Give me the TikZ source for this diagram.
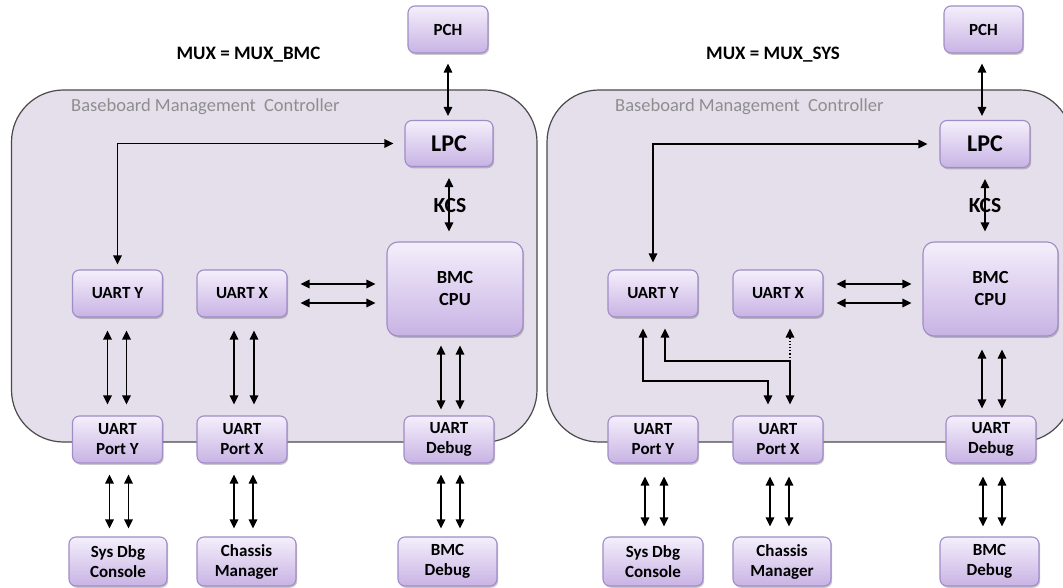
\documentclass[tikz,border=0pt]{standalone}
\usepackage{fontspec}
\setmainfont{Carlito}
\usetikzlibrary{arrows.meta,shadows,calc}
\definecolor{boxtop}{HTML}{F4EFFB}
\definecolor{boxbot}{HTML}{C8B3E4}
\definecolor{boxline}{HTML}{A08CC6}
\definecolor{panelfill}{HTML}{E4DFEB}
\definecolor{panelline}{HTML}{4A4A4A}
\definecolor{labelgray}{HTML}{8E8E8E}

\tikzset{
  blk/.style={draw=boxline, line width=1.1pt, rounded corners=7pt,
    top color=boxtop, bottom color=boxbot, align=center, inner sep=0pt,
    minimum width=90pt, minimum height=47pt,
    font=\fontsize{17}{20}\selectfont\bfseries,
    drop shadow={shadow xshift=1.2pt, shadow yshift=-1.8pt, opacity=0.3, fill=black!70}},
  panel/.style={fill=panelfill, draw=panelline, line width=1.2pt, rounded corners=52pt},
  tip/.style={Triangle[length=9pt,width=8.5pt]},
  link/.style={line width=1.2pt, {Triangle[length=9pt,width=8.5pt]}-{Triangle[length=9pt,width=8.5pt]}},
  onelink/.style={line width=1.2pt, -{Triangle[length=9pt,width=8.5pt]}},
  title/.style={font=\fontsize{19}{22}\selectfont\bfseries},
  bmclabel/.style={font=\fontsize{18.5}{22}\selectfont, text=labelgray, anchor=west, inner sep=0pt},
  kcslabel/.style={font=\fontsize{21.5}{24}\selectfont\bfseries, inner sep=0pt},
}

\begin{document}
\begin{tikzpicture}[x=1pt, y=-1pt]
\useasboundingbox (0,0) rectangle (1063,588);
\clip (0,0) rectangle (1063,588);

% ---------- controller outlines ----------
\draw[panel] (11.5,90) rectangle (537,442);
\draw[panel] (547,90) rectangle (1072,442);

% ================= MUX_BMC =================
\node[title] (muxa) at (248.5,55) {MUX = MUX\_BMC};
\node[bmclabel] (bmca) at (71,107) {Baseboard Management\ \ Controller};

\node[blk, minimum width=80pt] (pcha) at (448,29.5) {PCH};
\node[blk, minimum width=88pt, minimum height=46pt, font=\fontsize{24}{26}\selectfont\bfseries] (lpca) at (449,143.5) {LPC};
\node[blk, minimum width=136pt, minimum height=94pt, rounded corners=11pt, font=\fontsize{18.5}{22}\selectfont\bfseries] (cpua) at (455,289) {BMC\\CPU};
\node[blk] (uya) at (117.5,293.5) {UART Y};
\node[blk] (uxa) at (242,293.5) {UART X};
\node[blk] (pya) at (117.5,439.5) {UART\\Port Y};
\node[blk] (pxa) at (242,439.5) {UART\\Port X};
\node[blk] (pda) at (449,439.5) {UART\\Debug};
\node[blk, minimum width=98pt, minimum height=49pt] (sda) at (118,561.5) {Sys Dbg\\Console};
\node[blk, minimum width=99pt, minimum height=49pt] (cma) at (246.5,561.5) {Chassis\\Manager};
\node[blk, minimum width=99pt, minimum height=49pt] (bda) at (447.5,561.5) {BMC\\Debug};

\draw[link, shorten <=10pt, shorten >=4pt] (pcha.south) -- (pcha.south |- lpca.north);
\draw[link, shorten <=11pt, shorten >=10pt] (lpca.south) -- (lpca.south |- cpua.north);
\node[kcslabel] (kcsa) at (450,206) {KCS};
\draw[link, shorten <=5pt, shorten >=11pt] (uya.north) |- (lpca.west);
\draw[link, shorten <=13pt, shorten >=11pt] ([yshift=9.5pt]uxa.east) -- ([yshift=9.5pt]uxa.east -| cpua.west);
\draw[link, shorten <=13pt, shorten >=11pt] ([yshift=-9.5pt]uxa.east) -- ([yshift=-9.5pt]uxa.east -| cpua.west);

\foreach \dx in {-10,9}
  \draw[link, shorten <=13pt, shorten >=11pt] ([xshift=\dx pt]uya.south) -- ([xshift=\dx pt]uya.south |- pya.north);
\foreach \dx in {-8,12}
  \draw[link, shorten <=13pt, shorten >=11pt] ([xshift=\dx pt]uxa.south) -- ([xshift=\dx pt]uxa.south |- pxa.north);
\foreach \dx in {-8,11}
  \draw[link, shorten <=9pt, shorten >=6pt] ([xshift=\dx pt]pda.north |- cpua.south) -- ([xshift=\dx pt]pda.north);
\foreach \dx in {-8,11}{
  \draw[link, shorten <=11pt, shorten >=8pt] ([xshift=\dx pt]pya.south) -- ([xshift=\dx pt]pya.south |- sda.north);
  \draw[link, shorten <=11pt, shorten >=8pt] ([xshift=\dx pt]pxa.south) -- ([xshift=\dx pt]pxa.south |- cma.north);
  \draw[link, shorten <=11pt, shorten >=8pt] ([xshift=\dx pt]pda.south) -- ([xshift=\dx pt]pda.south |- bda.north);
}

% ================= MUX_SYS =================
\node[title] (muxb) at (773,55) {MUX = MUX\_SYS};
\node[bmclabel] (bmcb) at (615,107) {Baseboard Management\ \ Controller};

\node[blk, minimum width=79pt] (pchb) at (983.5,29.5) {PCH};
\node[blk, minimum width=90pt, minimum height=47pt, font=\fontsize{24}{26}\selectfont\bfseries] (lpcb) at (985,144) {LPC};
\node[blk, minimum width=135pt, minimum height=94pt, rounded corners=11pt, font=\fontsize{18.5}{22}\selectfont\bfseries] (cpub) at (990.5,289) {BMC\\CPU};
\node[blk] (uyb) at (653,293.5) {UART Y};
\node[blk] (uxb) at (778,293.5) {UART X};
\node[blk] (pyb) at (653,439.5) {UART\\Port Y};
\node[blk] (pxb) at (778,439.5) {UART\\Port X};
\node[blk] (pdb) at (991,439.5) {UART\\Debug};
\node[blk, minimum width=100pt, minimum height=49pt] (sdb) at (653,561.5) {Sys Dbg\\Console};
\node[blk, minimum width=98pt, minimum height=49pt] (cmb) at (782,561.5) {Chassis\\Manager};
\node[blk, minimum width=99pt, minimum height=49pt] (bdb) at (989.5,561.5) {BMC\\Debug};

\draw[link, shorten <=10pt, shorten >=4pt] ([xshift=-1.5pt]pchb.south) -- ([xshift=-1.5pt]pchb.south |- lpcb.north);
\draw[link, shorten <=11pt, shorten >=10pt] (lpcb.south) -- (lpcb.south |- cpub.north);
\node[kcslabel] (kcsb) at (985,206) {KCS};
\draw[link, shorten <=7pt, shorten >=12pt] (uyb.north) |- (lpcb.west);
\draw[link, shorten <=13pt, shorten >=11pt] ([yshift=9.5pt]uxb.east) -- ([yshift=9.5pt]uxb.east -| cpub.west);
\draw[link, shorten <=13pt, shorten >=11pt] ([yshift=-9.5pt]uxb.east) -- ([yshift=-9.5pt]uxb.east -| cpub.west);

% crossed routing between the UARTs and the ports
\coordinate (ya) at (643,381);
\coordinate (yb) at (768,381);
\coordinate (xa) at (665,361);
\coordinate (xb) at (790,361);
\draw[link, shorten <=11pt, shorten >=11pt] ([xshift=-10pt]uyb.south) -- (ya) -- (yb) -- (yb |- pxb.north);
\draw[link, shorten <=11pt, shorten >=11pt] ([xshift=12pt]uyb.south) -- (xa) -- (xb) -- (xb |- pxb.north);
\draw[onelink, dotted, shorten >=11pt] (xb) -- (xb |- uxb.south);

\foreach \dx in {-9,11}
  \draw[link, shorten <=13pt, shorten >=7pt] ([xshift=\dx pt]pdb.north |- cpub.south) -- ([xshift=\dx pt]pdb.north);
\foreach \dx in {-8,11}{
  \draw[link, shorten <=13pt, shorten >=10pt] ([xshift=\dx pt]pyb.south) -- ([xshift=\dx pt]pyb.south |- sdb.north);
  \draw[link, shorten <=13pt, shorten >=10pt] ([xshift=\dx pt]pxb.south) -- ([xshift=\dx pt]pxb.south |- cmb.north);
  \draw[link, shorten <=13pt, shorten >=10pt] ([xshift=\dx pt]pdb.south) -- ([xshift=\dx pt]pdb.south |- bdb.north);
}
\end{tikzpicture}
\end{document}
